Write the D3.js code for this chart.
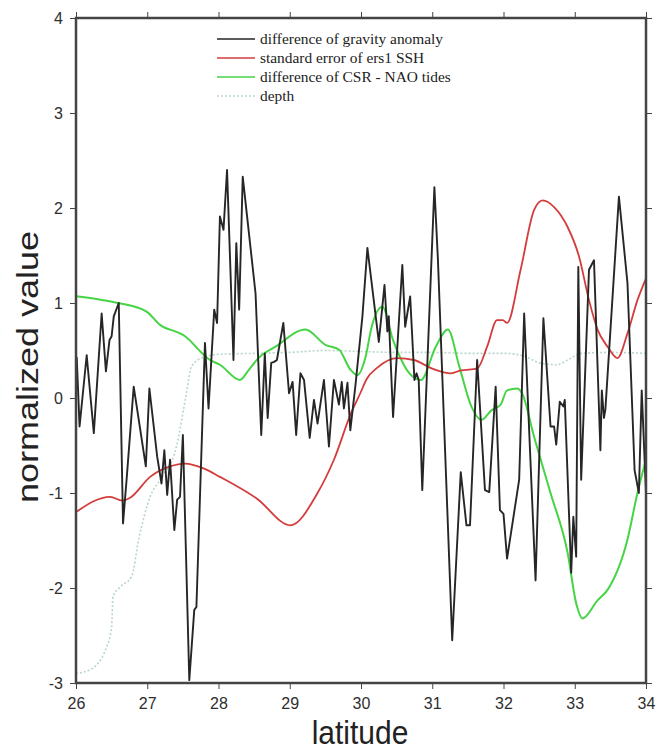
<!DOCTYPE html>
<html>
<head>
<meta charset="utf-8">
<script src="https://cdn.jsdelivr.net/npm/d3@7"></script>
<style>
  html, body { margin: 0; padding: 0; background: #fff; }
  svg { display: block; }
</style>
</head>
<body>
<svg id="chart" width="658" height="751"></svg>
<script>
// latitude / normalized value pairs for each profile
const gravityLat = [26.01,26.05,26.15,26.25,26.36,26.42,26.47,26.50,26.53,26.60,26.66,26.71,26.81,26.98,27.03,27.14,27.20,27.24,27.28,27.32,27.38,27.42,27.46,27.50,27.59,27.66,27.69,27.81,27.86,27.94,27.98,28.02,28.07,28.12,28.21,28.25,28.29,28.34,28.52,28.60,28.65,28.69,28.74,28.78,28.82,28.91,28.99,29.04,29.09,29.15,29.20,29.28,29.34,29.39,29.48,29.55,29.62,29.69,29.73,29.76,29.81,29.85,29.92,30.02,30.09,30.25,30.33,30.37,30.39,30.45,30.58,30.62,30.69,30.75,30.78,30.81,30.86,31.03,31.08,31.28,31.40,31.48,31.53,31.63,31.74,31.80,31.89,31.95,32.00,32.05,32.22,32.29,32.45,32.56,32.66,32.71,32.74,32.79,32.84,32.86,32.95,32.98,33.02,33.05,33.09,33.20,33.27,33.36,33.38,33.41,33.43,33.62,33.74,33.84,33.90,33.94,34.00];
const gravityVal = [0.43,-0.30,0.45,-0.37,0.89,0.28,0.61,0.65,0.86,1.00,-1.32,-0.86,0.12,-0.72,0.10,-0.62,-0.90,-0.55,-1.02,-0.65,-1.39,-1.07,-1.04,-0.39,-2.97,-2.23,-2.20,0.58,-0.11,0.93,0.79,1.91,1.77,2.40,0.40,1.63,0.93,2.33,1.10,-0.39,0.47,-0.21,0.37,0.38,0.40,0.79,0.05,0.17,-0.39,0.26,0.19,-0.42,-0.02,-0.27,0.19,-0.51,0.19,-0.07,0.17,-0.11,0.16,-0.34,0.12,0.86,1.58,0.59,1.19,0.70,0.86,-0.20,1.40,0.75,1.07,0.19,0.26,0.19,-0.97,2.22,1.45,-2.55,-0.78,-1.34,-1.34,0.40,-0.97,-0.99,0.12,-1.18,-1.22,-1.69,-0.86,0.89,-1.92,0.84,-0.30,-0.30,-0.49,-0.04,-0.09,-0.02,-1.84,-1.25,-1.67,1.38,-0.86,1.35,1.45,-0.55,0.08,-0.21,-0.12,2.12,1.21,-0.76,-1.00,0.08,-1.00];

const stderrLat = [26.00,26.48,26.65,26.76,27.04,27.32,27.53,27.79,28.02,28.54,29.01,29.39,29.62,29.86,29.99,30.08,30.23,30.51,30.74,31.00,31.26,31.40,31.63,31.77,31.91,31.99,32.05,32.24,32.43,32.55,32.71,32.90,33.06,33.20,33.32,33.46,33.60,33.74,33.88,34.00];
const stderrVal = [-1.20,-1.04,-1.08,-1.05,-0.83,-0.72,-0.69,-0.74,-0.83,-1.06,-1.34,-1.00,-0.65,-0.16,0.05,0.20,0.32,0.42,0.40,0.31,0.26,0.29,0.31,0.54,0.82,0.82,0.79,1.35,1.98,2.08,2.01,1.80,1.49,1.03,0.72,0.54,0.42,0.68,1.03,1.26];

const tidesLat = [26.00,26.38,26.59,26.99,27.18,27.46,27.53,27.77,27.86,28.02,28.30,28.42,28.56,28.80,29.22,29.50,29.69,29.85,29.95,30.06,30.15,30.30,30.45,30.68,30.84,31.05,31.22,31.38,31.55,31.69,31.83,31.96,32.05,32.19,32.26,32.43,32.66,32.90,33.02,33.11,33.32,33.46,33.74,33.88,34.00];
const tidesVal = [1.07,1.03,1.00,0.91,0.77,0.68,0.65,0.47,0.41,0.35,0.19,0.29,0.42,0.54,0.72,0.56,0.51,0.30,0.24,0.42,0.75,0.96,0.61,0.26,0.19,0.54,0.72,0.33,-0.09,-0.23,-0.13,-0.07,0.08,0.10,0.05,-0.41,-1.00,-1.63,-2.16,-2.32,-2.13,-2.02,-1.49,-1.00,-0.65];

const depthLat = [26.00,26.20,26.43,26.50,26.52,26.62,26.78,26.88,27.04,27.18,27.41,27.55,27.62,27.79,28.00,28.50,29.00,29.50,30.00,30.50,31.00,31.50,32.00,32.30,32.50,32.75,32.90,33.10,33.50,34.00];
const depthVal = [-2.90,-2.86,-2.62,-2.41,-2.09,-1.99,-1.88,-1.49,-1.04,-0.86,-0.51,0.05,0.33,0.43,0.46,0.47,0.48,0.50,0.49,0.48,0.48,0.47,0.47,0.44,0.37,0.35,0.40,0.47,0.48,0.47];

const seriesNames = ["difference of gravity anomaly", "standard error of ers1 SSH", "difference of CSR - NAO tides", "depth"];
const xTicks = [26, 27, 28, 29, 30, 31, 32, 33, 34];
const yTicks = [-3, -2, -1, 0, 1, 2, 3, 4];

const svg = d3.select("#chart");
const plotLeft = 76, plotRight = 646, plotTop = 18, plotBottom = 683;

const x = d3.scaleLinear().domain([26, 34]).range([plotLeft, plotRight]);
const y = d3.scaleLinear().domain([-3, 4]).range([plotBottom, plotTop]);

const frameColor = "#444";
const tickFont = "'Liberation Sans', Arial, sans-serif";

svg.append("defs").append("clipPath").attr("id", "plot-clip")
  .append("rect").attr("x", plotLeft).attr("y", plotTop)
  .attr("width", plotRight - plotLeft).attr("height", plotBottom - plotTop);

// axes: ticks point outward on all four sides
const axisStyle = g => {
  g.select(".domain").remove();
  g.selectAll(".tick line").attr("stroke", frameColor).attr("stroke-width", 1);
  g.selectAll(".tick text").attr("fill", "#2e2e2e")
    .style("font-family", tickFont).style("font-size", "16px");
};

svg.append("g").attr("transform", `translate(0,${plotBottom})`)
  .call(d3.axisBottom(x).tickValues(xTicks).tickFormat(d3.format("d")).tickSize(6).tickPadding(9))
  .call(axisStyle);
svg.append("g").attr("transform", `translate(0,${plotTop})`)
  .call(d3.axisTop(x).tickValues(xTicks).tickFormat("").tickSize(6))
  .call(axisStyle);
svg.append("g").attr("transform", `translate(${plotLeft},0)`)
  .call(d3.axisLeft(y).tickValues(yTicks).tickFormat(d => d < 0 ? "-" + Math.abs(d) : String(d)).tickSize(6).tickPadding(7))
  .call(axisStyle);
svg.append("g").attr("transform", `translate(${plotRight},0)`)
  .call(d3.axisRight(y).tickValues(yTicks).tickFormat("").tickSize(6))
  .call(axisStyle);

const lineGen = curve => d3.line().x(d => x(d[0])).y(d => y(d[1])).curve(curve);
const plot = svg.append("g").attr("clip-path", "url(#plot-clip)");

const series = [
  { lat: depthLat, val: depthVal, color: "#b9d6c6", width: 1.6, dash: "2,2", curve: d3.curveMonotoneX },
  { lat: tidesLat, val: tidesVal, color: "#46d446", width: 2, dash: null, curve: d3.curveMonotoneX },
  { lat: stderrLat, val: stderrVal, color: "#d43c3c", width: 1.8, dash: null, curve: d3.curveMonotoneX },
  { lat: gravityLat, val: gravityVal, color: "#262626", width: 1.9, dash: null, curve: d3.curveLinear }
];

series.forEach(s => {
  const pts = s.lat.map((v, i) => [v, s.val[i]]);
  plot.append("path")
    .attr("d", lineGen(s.curve)(pts))
    .attr("fill", "none")
    .attr("stroke", s.color)
    .attr("stroke-width", s.width)
    .attr("stroke-linejoin", "round")
    .attr("stroke-dasharray", s.dash);
});

// frame
svg.append("rect")
  .attr("x", plotLeft).attr("y", plotTop)
  .attr("width", plotRight - plotLeft).attr("height", plotBottom - plotTop)
  .attr("fill", "none").attr("stroke", frameColor).attr("stroke-width", 2.5);

// legend
const legendColors = ["#262626", "#d43c3c", "#46d446", "#b9d6c6"];
const legendDash = [null, null, null, "2,2"];
const legend = svg.append("g");
seriesNames.forEach((name, i) => {
  const ly = 39 + i * 19;
  legend.append("line")
    .attr("x1", 217).attr("x2", 255).attr("y1", ly).attr("y2", ly)
    .attr("stroke", legendColors[i]).attr("stroke-width", 1.6)
    .attr("stroke-dasharray", legendDash[i]);
  legend.append("text")
    .attr("x", 260).attr("y", ly + 5)
    .attr("fill", "#222")
    .style("font-family", "'Liberation Serif', 'Times New Roman', serif")
    .style("font-size", "15.4px")
    .text(name);
});

// axis titles
svg.append("text")
  .attr("transform", `translate(360,744) scale(1,1.12)`)
  .attr("text-anchor", "middle")
  .attr("fill", "#222")
  .style("font-family", tickFont).style("font-size", "30px")
  .text("latitude");

svg.append("text")
  .attr("transform", `translate(38,367) rotate(-90) scale(1.2,1)`)
  .attr("text-anchor", "middle")
  .attr("fill", "#222")
  .style("font-family", tickFont).style("font-size", "30px")
  .text("normalized value");
</script>
</body>
</html>
